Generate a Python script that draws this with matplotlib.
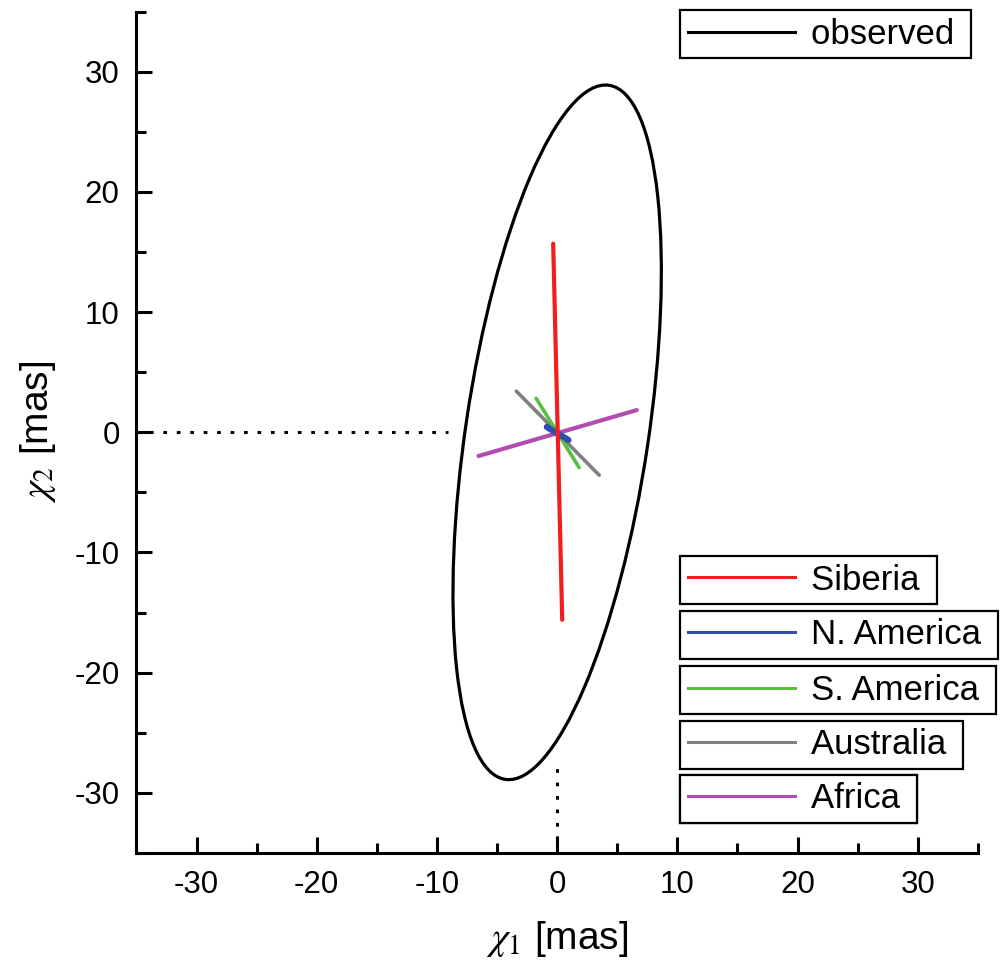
import matplotlib
matplotlib.use("Agg")
import matplotlib.pyplot as plt
from matplotlib.patches import Ellipse
from matplotlib.lines import Line2D
from matplotlib.ticker import MultipleLocator

plt.rcParams['font.family'] = ['Liberation Sans', 'DejaVu Sans']
plt.rcParams['mathtext.fontset'] = 'stix'
plt.rcParams['axes.unicode_minus'] = False

# observed error ellipse (mas)
ell_width = 15.2
ell_height = 58.4
ell_angle = -8.5

# modelled contributions: line segments through the origin
regions = ["Siberia", "N. America", "S. America", "Australia", "Africa"]
region_colors = ["#f21d1d", "#2f4fae", "#58c040", "#808080", "#b24cb0"]
x_start = [-0.33, -0.86, -1.75, -3.4, -6.54]
y_start = [15.7, 0.44, 2.83, 3.43, -1.97]
x_end = [0.42, 0.94, 1.83, 3.5, 6.62]
y_end = [-15.6, -0.64, -2.94, -3.57, 1.85]
line_widths = [3.0, 4.5, 2.6, 2.6, 3.0]
draw_order = [6, 5, 3, 2, 4]

# dotted guide lines
hguide_x = [-35, -9.1]
hguide_y = [0, 0]
vguide_x = [0, 0]
vguide_y = [-35, -27.4]

fig = plt.figure(figsize=(10.03, 9.77), dpi=100)
ax = fig.add_axes([0.136, 0.127, 0.839, 0.861])

ax.add_patch(Ellipse((0, 0), ell_width, ell_height, angle=ell_angle,
                     fill=False, edgecolor="black", linewidth=2.3))

for i in range(len(regions)):
    ax.plot([x_start[i], x_end[i]], [y_start[i], y_end[i]],
            color=region_colors[i], linewidth=line_widths[i],
            solid_capstyle="round", zorder=draw_order[i])

ax.plot(hguide_x, hguide_y, color="black", linewidth=2.2, dashes=(1.2, 3.2))
ax.plot(vguide_x, vguide_y, color="black", linewidth=2.2, dashes=(1.2, 3.2))

ax.set_xlim(-35, 35)
ax.set_ylim(-35, 35)
ax.xaxis.set_major_locator(MultipleLocator(10))
ax.xaxis.set_minor_locator(MultipleLocator(5))
ax.yaxis.set_major_locator(MultipleLocator(10))
ax.yaxis.set_minor_locator(MultipleLocator(5))

ax.spines["top"].set_visible(False)
ax.spines["right"].set_visible(False)
for s in ["left", "bottom"]:
    ax.spines[s].set_linewidth(2.2)

ax.tick_params(which="major", direction="in", length=11.5, width=2.2,
               labelsize=22.5, pad=12)
ax.tick_params(which="minor", direction="in", length=7, width=2.2)

ax.set_xlabel(r"$\chi_1$ [mas]", fontsize=28, labelpad=14)
ax.set_ylabel(r"$\chi_2$ [mas]", fontsize=28, labelpad=12)


def add_box(label, color, y_top):
    handle = Line2D([], [], color=color, linewidth=2.2)
    leg = ax.legend(handles=[handle], labels=[label + " "], loc="upper left",
                    bbox_to_anchor=(0.646, y_top), borderaxespad=0,
                    fontsize=25, frameon=True, fancybox=False,
                    edgecolor="black", framealpha=1, borderpad=0.22,
                    handlelength=3.1, handletextpad=0.45)
    leg.get_frame().set_linewidth(1.6)
    leg.set_zorder(10)
    ax.add_artist(leg)


add_box("observed", "black", 1.002)
box_tops = [0.353, 0.288, 0.222, 0.157, 0.093]
for i in range(len(regions)):
    add_box(regions[i], region_colors[i], box_tops[i])

fig.savefig("out.png", dpi=100)
